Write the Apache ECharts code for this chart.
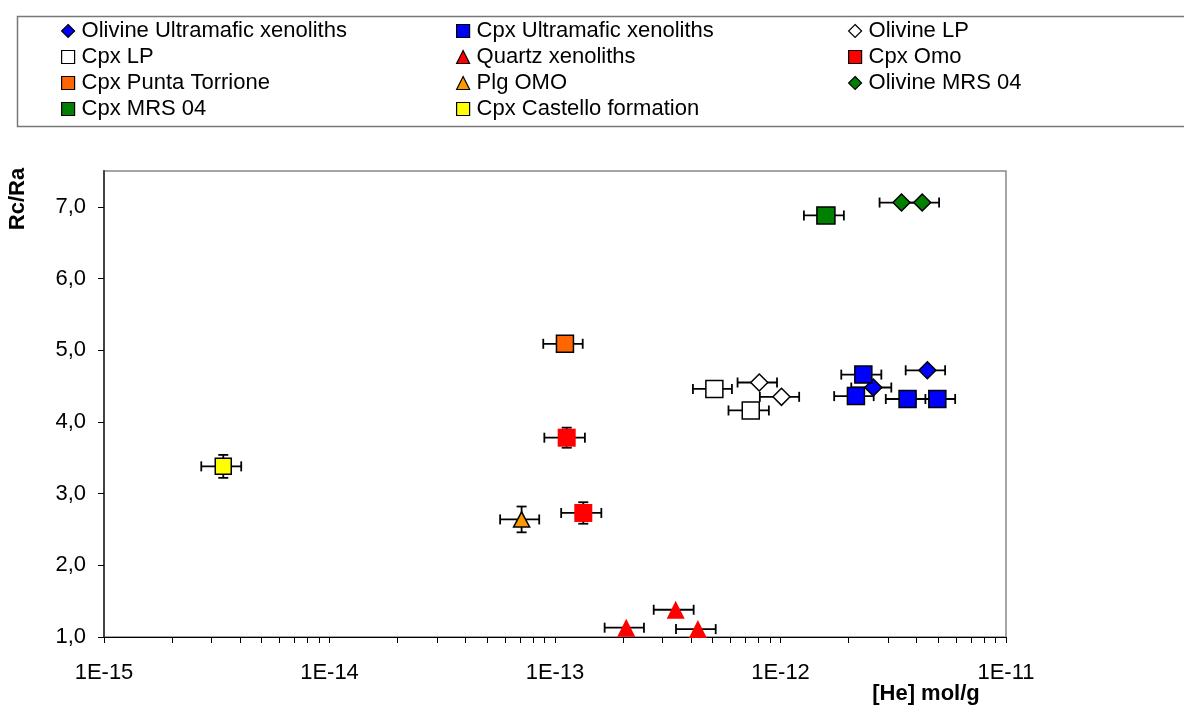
<!DOCTYPE html>
<html>
<head>
<meta charset="utf-8">
<script src="https://cdn.jsdelivr.net/npm/echarts@6/dist/echarts.min.js"></script>
<style>
html,body{margin:0;padding:0;background:#fff;}
#chart{width:1184px;height:707px;}
</style>
</head>
<body>
<div id="chart"></div>
<script>
// ---- Data ----
// each point: [He mol/g, Rc/Ra]; errors: x (mol/g), y (Rc/Ra)
const olivineUltraPts = [[2.58e-12, 4.48], [4.48e-12, 4.72]];
const olivineUltraXErr = [0.52e-12, 0.89e-12];
const olivineUltraYErr = [0, 0];

const cpxUltraPts = [[2.33e-12, 4.66], [2.16e-12, 4.36], [3.66e-12, 4.32], [4.96e-12, 4.32]];
const cpxUltraXErr = [0.47e-12, 0.43e-12, 0.73e-12, 0.99e-12];
const cpxUltraYErr = [0, 0, 0, 0];

const olivineLPPts = [[8.05e-13, 4.55], [1.01e-12, 4.35]];
const olivineLPXErr = [1.6e-13, 2.0e-13];
const olivineLPYErr = [0, 0];

const cpxLPPts = [[5.09e-13, 4.46], [7.38e-13, 4.16]];
const cpxLPXErr = [1.0e-13, 1.5e-13];
const cpxLPYErr = [0, 0];

const quartzPts = [[2.07e-13, 1.13], [3.43e-13, 1.38], [4.30e-13, 1.11]];
const quartzXErr = [0.41e-13, 0.69e-13, 0.86e-13];
const quartzYErr = [0, 0, 0];

const cpxOmoPts = [[1.127e-13, 3.78], [1.335e-13, 2.73]];
const cpxOmoXErr = [0.23e-13, 0.27e-13];
const cpxOmoYErr = [0.14, 0.15];

const puntaPts = [[1.107e-13, 5.09]];
const puntaXErr = [0.22e-13];
const puntaYErr = [0];

const plgOmoPts = [[7.11e-14, 2.64]];
const plgOmoXErr = [1.4e-14];
const plgOmoYErr = [0.18];

const olivineMrsPts = [[3.44e-12, 7.06], [4.25e-12, 7.06]];
const olivineMrsXErr = [0.69e-12, 0.80e-12];
const olivineMrsYErr = [0, 0];

const cpxMrsPts = [[1.59e-12, 6.88]];
const cpxMrsXErr = [0.32e-12];
const cpxMrsYErr = [0];

const castelloPts = [[3.38e-15, 3.38]];
const castelloXErr = [0.68e-15];
const castelloYErr = [0.16];

// tick labels
const xMajorTicks = [1e-15, 1e-14, 1e-13, 1e-12, 1e-11];
const xMinorMultipliers = [2, 3, 4, 5, 6, 7, 8, 9];
const yTicks = [1, 2, 3, 4, 5, 6, 7];

// legend columns
const legendCol1 = ['Olivine Ultramafic xenoliths', 'Cpx LP', 'Cpx Punta Torrione', 'Cpx MRS 04'];
const legendCol2 = ['Cpx Ultramafic xenoliths', 'Quartz xenoliths', 'Plg OMO', 'Cpx Castello formation'];
const legendCol3 = ['Olivine LP', 'Cpx Omo', 'Olivine MRS 04'];

// ---- Build ----
const FONT = '"Liberation Sans", Arial, sans-serif';
const FS = 22;
const groups = [
  {name: 'Olivine Ultramafic xenoliths', pts: olivineUltraPts, xe: olivineUltraXErr, ye: olivineUltraYErr, symbol: 'diamond', size: [17, 17], color: '#0000FF', border: true},
  {name: 'Cpx Ultramafic xenoliths', pts: cpxUltraPts, xe: cpxUltraXErr, ye: cpxUltraYErr, symbol: 'rect', size: [17, 17], color: '#0000FF', border: true},
  {name: 'Olivine LP', pts: olivineLPPts, xe: olivineLPXErr, ye: olivineLPYErr, symbol: 'diamond', size: [17, 17], color: '#FFFFFF', border: true},
  {name: 'Cpx LP', pts: cpxLPPts, xe: cpxLPXErr, ye: cpxLPYErr, symbol: 'rect', size: [17, 17], color: '#FFFFFF', border: true},
  {name: 'Quartz xenoliths', pts: quartzPts, xe: quartzXErr, ye: quartzYErr, symbol: 'triangle', size: [18, 18], color: '#FF0000', border: false},
  {name: 'Cpx Omo', pts: cpxOmoPts, xe: cpxOmoXErr, ye: cpxOmoYErr, symbol: 'rect', size: [18, 18], color: '#FF0000', border: false},
  {name: 'Cpx Punta Torrione', pts: puntaPts, xe: puntaXErr, ye: puntaYErr, symbol: 'rect', size: [17, 17], color: '#FF6600', border: true},
  {name: 'Plg OMO', pts: plgOmoPts, xe: plgOmoXErr, ye: plgOmoYErr, symbol: 'triangle', size: [16, 15], color: '#FF9900', border: true},
  {name: 'Olivine MRS 04', pts: olivineMrsPts, xe: olivineMrsXErr, ye: olivineMrsYErr, symbol: 'diamond', size: [17, 17], color: '#008000', border: true},
  {name: 'Cpx MRS 04', pts: cpxMrsPts, xe: cpxMrsXErr, ye: cpxMrsYErr, symbol: 'rect', size: [18, 17], color: '#008000', border: true},
  {name: 'Cpx Castello formation', pts: castelloPts, xe: castelloXErr, ye: castelloYErr, symbol: 'rect', size: [16, 16], color: '#FFFF00', border: true}
];

const xMinorTicks = [];
for (let d = 0; d < xMajorTicks.length - 1; d++) {
  xMinorMultipliers.forEach(m => xMinorTicks.push(xMajorTicks[d] * m));
}
const xAllTicks = xMajorTicks.concat(xMinorTicks).sort((a, b) => a - b);

const errData = [];
groups.forEach(g => g.pts.forEach((p, i) => errData.push([p[0], p[1], g.xe[i], g.ye[i]])));

function renderErr(params, api) {
  const x = api.value(0), y = api.value(1), ex = api.value(2), ey = api.value(3);
  const children = [];
  const st = {stroke: '#000', lineWidth: 1.8};
  const cap = 5;
  if (ex > 0) {
    const l = api.coord([x - ex, y]), r = api.coord([x + ex, y]);
    children.push({type: 'line', shape: {x1: l[0], y1: l[1], x2: r[0], y2: r[1]}, style: st});
    children.push({type: 'line', shape: {x1: l[0], y1: l[1] - cap, x2: l[0], y2: l[1] + cap}, style: st});
    children.push({type: 'line', shape: {x1: r[0], y1: r[1] - cap, x2: r[0], y2: r[1] + cap}, style: st});
  }
  if (ey > 0) {
    const t = api.coord([x, y + ey]), b = api.coord([x, y - ey]);
    children.push({type: 'line', shape: {x1: t[0], y1: t[1], x2: b[0], y2: b[1]}, style: st});
    children.push({type: 'line', shape: {x1: t[0] - cap, y1: t[1], x2: t[0] + cap, y2: t[1]}, style: st});
    children.push({type: 'line', shape: {x1: b[0] - cap, y1: b[1], x2: b[0] + cap, y2: b[1]}, style: st});
  }
  return {type: 'group', children: children};
}

const series = [{
  type: 'custom',
  name: 'errors',
  renderItem: renderErr,
  data: errData,
  encode: {x: 0, y: 1},
  z: 2,
  silent: true,
  clip: true
}];
groups.forEach(g => {
  series.push({
    type: 'scatter',
    name: g.name,
    data: g.pts,
    symbol: g.symbol,
    symbolSize: g.size,
    z: 3,
    clip: true,
    itemStyle: {color: g.color, borderColor: '#000', borderWidth: g.border ? 1.5 : 0, opacity: 1}
  });
});

function legendCol(data, left) {
  return {
    data: data,
    orient: 'vertical',
    left: left,
    top: 20,
    padding: 0,
    itemGap: 4,
    itemWidth: 13,
    itemHeight: 13,
    selectedMode: false,
    textStyle: {fontSize: FS, fontFamily: FONT, color: '#000', padding: [0, 0, 0, 2]},
    itemStyle: {borderWidth: 1.2}
  };
}

const option = {
  backgroundColor: '#fff',
  animation: false,
  legend: [legendCol(legendCol1, 61), legendCol(legendCol2, 456), legendCol(legendCol3, 848)],
  grid: {left: 104, right: 178, top: 171, bottom: 70, show: true, borderColor: '#888', borderWidth: 1.5, backgroundColor: '#fff'},
  xAxis: {
    type: 'log',
    logBase: 10,
    min: 1e-15,
    max: 1e-11,
    axisLine: {lineStyle: {color: '#000', width: 1}},
    axisTick: {show: true, length: 6, inside: false, lineStyle: {color: '#000'}, customValues: xAllTicks},
    axisLabel: {
      customValues: xMajorTicks,
      fontSize: FS, fontFamily: FONT, color: '#000', margin: 25,
      formatter: v => '1E' + Math.round(Math.log10(v))
    },
    splitLine: {show: false},
    minorTick: {show: false}
  },
  yAxis: {
    type: 'value',
    min: 1,
    max: 7.5,
    axisLine: {show: true, lineStyle: {color: '#444', width: 2}},
    axisTick: {show: true, length: 6, lineStyle: {color: '#000'}, customValues: yTicks},
    axisLabel: {
      customValues: yTicks,
      fontSize: FS, fontFamily: FONT, color: '#000', margin: 18,
      formatter: v => v.toFixed(1).replace('.', ',')
    },
    splitLine: {show: false}
  },
  graphic: [
    {type: 'rect', left: 15, top: 14, shape: {width: 1185, height: 110}, style: {fill: 'none', stroke: '#777', lineWidth: 1.5}, z: 0},
    {type: 'text', x: 18, y: 199, rotation: Math.PI / 2, style: {text: 'Rc/Ra', font: 'bold 22px ' + FONT, fill: '#000', textAlign: 'center', textVerticalAlign: 'middle'}},
    {type: 'text', x: 926, y: 694, style: {text: '[He] mol/g', font: 'bold 22px ' + FONT, fill: '#000', textAlign: 'center', textVerticalAlign: 'middle'}}
  ],
  series: series
};

const chart = echarts.init(document.getElementById('chart'), null, {renderer: 'canvas'});
chart.setOption(option);
</script>
</body>
</html>
